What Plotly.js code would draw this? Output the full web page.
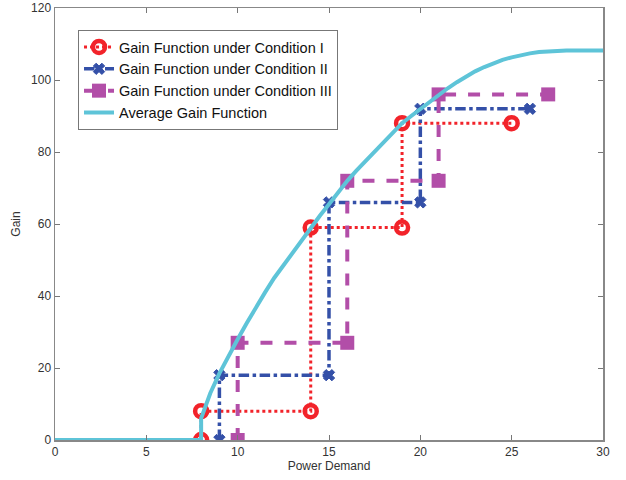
<!DOCTYPE html>
<html>
<head>
<meta charset="utf-8">
<script src="https://cdn.plot.ly/plotly-3.0.1.min.js"></script>
<style>html,body{margin:0;padding:0;background:#fff;}#chart{width:626px;height:480px;}</style>
</head>
<body>
<div id="chart"></div>
<script>
var cond1X = [8, 8, 14, 14, 19, 19, 25];
var cond1Y = [0, 8, 8, 59, 59, 88, 88];
var cond2X = [9, 9, 15, 15, 20, 20, 26];
var cond2Y = [0, 18, 18, 66, 66, 92, 92];
var cond3X = [10, 10, 16, 16, 21, 21, 27];
var cond3Y = [0, 27, 27, 72, 72, 96, 96];
var avgX = [0, 8, 8, 8.2, 8.5, 9, 9.5, 10, 10.5, 11, 11.5, 12, 12.5, 13, 13.5, 14, 14.5, 15, 15.5, 16, 16.5, 17, 17.5, 18, 18.5, 19, 19.5, 20, 20.5, 21, 21.5, 22, 22.5, 23, 23.5, 24, 24.5, 25, 25.5, 26, 26.5, 27, 27.5, 28, 30];
var avgY = [0, 0, 6, 9, 13, 18.5, 23.5, 28, 32.5, 37, 41, 45, 48.5, 52, 55.5, 59, 62.3, 65.5, 68.8, 72, 74.8, 77.5, 80.3, 83, 85.6, 88, 90, 92, 94, 95.8, 97.7, 99.4, 101, 102.4, 103.6, 104.7, 105.6, 106.3, 106.9, 107.4, 107.8, 108, 108.1, 108.2, 108.2];
var names = ["Gain Function under Condition I", "Gain Function under Condition II", "Gain Function under Condition III", "Average Gain Function"];

var traces = [
  {x: cond1X, y: cond1Y, name: names[0], mode: "lines+markers",
   line: {color: "#f2232a", width: 3, dash: "dot"},
   marker: {symbol: "circle-open", size: 12, color: "#f2232a", line: {width: 4.5, color: "#f2232a"}}},
  {x: cond2X, y: cond2Y, name: names[1], mode: "lines+markers",
   line: {color: "#3450a8", width: 3.5, dash: "dashdot"},
   marker: {symbol: "x", size: 10, color: "#3450a8", line: {width: 1, color: "#3450a8"}}},
  {x: cond3X, y: cond3Y, name: names[2], mode: "lines+markers",
   line: {color: "#b24ea8", width: 4, dash: "dash"},
   marker: {symbol: "square", size: 14, color: "#b24ea8"}},
  {x: avgX, y: avgY, name: names[3], mode: "lines",
   line: {color: "#5ec4d8", width: 4}}
];

var layout = {
  width: 626, height: 480,
  margin: {l: 55, r: 23, t: 8, b: 40},
  paper_bgcolor: "#fff", plot_bgcolor: "#fff",
  font: {family: "Liberation Sans, Arial, sans-serif", size: 11, color: "#333"},
  showlegend: true,
  legend: {x: 0.042, y: 0.949, xanchor: "left", yanchor: "top",
    bgcolor: "#fff", bordercolor: "#777", borderwidth: 1,
    font: {size: 14.5, color: "#111"}, tracegroupgap: 0, itemwidth: 30},
  xaxis: {range: [0, 30], tickvals: [0, 5, 10, 15, 20, 25, 30], ticks: "inside", ticklen: 5,
    tickcolor: "#777", showline: true, linecolor: "#888", linewidth: 1.5, mirror: "ticks",
    showgrid: false, zeroline: false, tickfont: {size: 12, color: "#333"},
    title: {text: "Power Demand", font: {size: 12, color: "#333"}, standoff: 2}},
  yaxis: {range: [0, 120], tickvals: [0, 20, 40, 60, 80, 100, 120], ticks: "inside", ticklen: 5,
    tickcolor: "#777", showline: true, linecolor: "#888", linewidth: 1.5, mirror: "ticks",
    showgrid: false, zeroline: false, tickfont: {size: 12, color: "#333"},
    title: {text: "Gain", font: {size: 12, color: "#333"}, standoff: 8}}
};

Plotly.newPlot("chart", traces, layout, {displayModeBar: false, staticPlot: true});
</script>
</body>
</html>
